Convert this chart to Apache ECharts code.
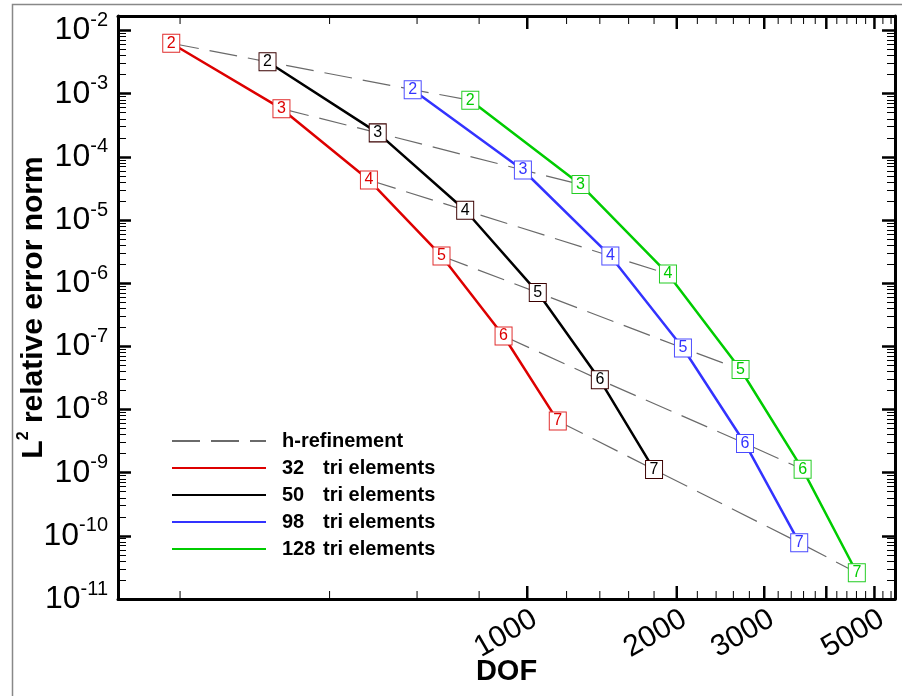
<!DOCTYPE html>
<html><head><meta charset="utf-8">
<script src="https://cdn.jsdelivr.net/npm/echarts@6/dist/echarts.min.js"></script>
<style>html,body{margin:0;padding:0;background:#fff}#c{width:902px;height:696px}</style>
</head><body><div id="c"></div>
<script>
const orders = [2, 3, 4, 5, 6, 7];
const dof32 = [192, 320, 480, 672, 896, 1152];
const err32 = [6.3e-3, 5.8e-4, 4.3e-5, 2.7e-6, 1.46e-7, 6.6e-9];
const dof50 = [300, 500, 750, 1050, 1400, 1800];
const err50 = [3.2e-3, 2.4e-4, 1.43e-5, 7.1e-7, 2.95e-8, 1.12e-9];
const dof98 = [588, 980, 1470, 2058, 2744, 3528];
const err98 = [1.16e-3, 6.2e-5, 2.7e-6, 9.4e-8, 2.9e-9, 7.8e-11];
const dof128 = [768, 1280, 1920, 2688, 3584, 4608];
const err128 = [7.9e-4, 3.65e-5, 1.4e-6, 4.3e-8, 1.13e-9, 2.6e-11];

const xMajorTicks = [1000, 2000, 3000, 4000, 5000];
const xMinorTicks = [200, 400, 600, 800, 1200, 1400, 1600, 1800, 2200, 2400, 2600, 2800,
  3200, 3400, 3600, 3800, 4200, 4400, 4600, 4800, 5200, 5400];
const yMajorTicks = [1e-2, 1e-3, 1e-4, 1e-5, 1e-6, 1e-7, 1e-8, 1e-9, 1e-10, 1e-11];
const yMinorMantissas = [2, 3, 4, 5, 6, 7, 8, 9];
const yMinorTicks = [];
yMajorTicks.slice(1).forEach(d => yMinorMantissas.forEach(m => yMinorTicks.push(parseFloat((m * d).toPrecision(3)))));

const FONT = 'Liberation Sans, Arial, Helvetica, sans-serif';
const RED = '#dd0000', BLACK = '#000000', BLUE = '#3333ff', GREEN = '#00cc00', DASH = '#6a6a6a';

const chart = echarts.init(document.getElementById('c'), null, {renderer: 'canvas'});

function axisBase(extra) {
  return Object.assign({
    gridIndex: 0,
    splitLine: {show: false},
    minorTick: {show: false},
    axisLine: {show: false, onZero: false},
    axisTick: {show: false},
    axisLabel: {show: false},
    nameMoveOverlap: false
  }, extra);
}
const xCommon = {type: 'log', logBase: 10, min: 150, max: 5500};
const yCommon = {type: 'log', logBase: 10, min: 1e-11, max: 0.017};

const majorTick = vals => ({show: true, inside: true, length: 13, lineStyle: {color: '#000', width: 2.5}, customValues: vals});
const minorTick = vals => ({show: true, inside: true, length: 8, lineStyle: {color: '#000', width: 1}, customValues: vals});
const thickLine = {show: true, onZero: false, lineStyle: {color: '#000', width: 3}};

const xAxes = [
  axisBase(Object.assign({}, xCommon, {
    position: 'bottom', axisLine: thickLine,
    axisLabel: {show: true, customValues: xMajorTicks, rotate: 30, align: 'right', verticalAlign: 'top',
      showMinLabel: true, showMaxLabel: true, hideOverlap: false,
      margin: 5, fontSize: 30, color: '#000', fontFamily: FONT, formatter: v => String(Math.round(v))},
    name: 'DOF', nameLocation: 'middle', nameGap: 58,
    nameTextStyle: {fontSize: 29, fontWeight: 'bold', color: '#000', fontFamily: FONT}
  })),
  axisBase(Object.assign({}, xCommon, {position: 'top', axisLine: thickLine}))
];
const yAxes = [
  axisBase(Object.assign({}, yCommon, {
    position: 'left', axisLine: thickLine, axisTick: majorTick(yMajorTicks),
    axisLabel: {show: true, customValues: yMajorTicks, margin: 10, color: '#000', fontFamily: FONT,
      showMinLabel: true, showMaxLabel: true,
      formatter: v => '{b|10}{s|' + Math.round(Math.log10(v)) + '}',
      rich: {
        b: {fontSize: 32, lineHeight: 40, color: '#000', fontFamily: FONT},
        s: {fontSize: 20, lineHeight: 20, verticalAlign: 'top', color: '#000', fontFamily: FONT}
      }},
    name: '{m|L}{s|2}{m| relative error norm}', nameLocation: 'middle', nameRotate: 90, nameGap: 66,
    nameTextStyle: {color: '#000', fontFamily: FONT,
      rich: {
        m: {fontSize: 30, fontWeight: 'bold', lineHeight: 36, color: '#000', fontFamily: FONT},
        s: {fontSize: 16, fontWeight: 'bold', lineHeight: 16, verticalAlign: 'top', color: '#000', fontFamily: FONT}
      }}
  })),
  axisBase(Object.assign({}, yCommon, {position: 'left', axisTick: minorTick(yMinorTicks)})),
  axisBase(Object.assign({}, yCommon, {position: 'right', axisLine: thickLine, axisTick: majorTick(yMajorTicks)})),
  axisBase(Object.assign({}, yCommon, {position: 'right', axisTick: minorTick(yMinorTicks)}))
];

const groups = [
  {dofs: dof32, errs: err32, color: RED, border: '#e02a2a'},
  {dofs: dof50, errs: err50, color: BLACK, border: '#3a0000'},
  {dofs: dof98, errs: err98, color: BLUE, border: '#4a4aff'},
  {dofs: dof128, errs: err128, color: GREEN, border: '#22cc22'}
];

const series = [];
// x-axis tick marks (bottom and mirrored top), placed through the x scale
function xTickSeries(vals, len, width) {
  return {
    type: 'custom', silent: true, z: 5, clip: false,
    data: vals.map(v => [v, 1e-5]),
    renderItem: (params, api) => {
      const x = api.coord([api.value(0), 1e-5])[0];
      const cs = params.coordSys;
      const yb = cs.y + cs.height, yt = cs.y;
      return {type: 'group', children: [
        {type: 'line', shape: {x1: x, y1: yb, x2: x, y2: yb - len}, style: {stroke: '#000', lineWidth: width}},
        {type: 'line', shape: {x1: x, y1: yt, x2: x, y2: yt + len}, style: {stroke: '#000', lineWidth: width}}
      ]};
    }
  };
}
series.push(xTickSeries(xMajorTicks, 13, 2.5));
series.push(xTickSeries(xMinorTicks, 8, 1));

// h-refinement dashed lines (same order p across meshes)
orders.forEach((p, i) => {
  series.push({
    type: 'line', name: 'href' + p, silent: true, symbol: 'none', z: 2,
    data: groups.map(g => [g.dofs[i], g.errs[i]]),
    lineStyle: {color: DASH, width: 1.2, type: [28, 11]}
  });
});
// p-refinement lines with numbered boxes
groups.forEach((g, gi) => {
  series.push({
    type: 'line', name: 'p' + gi, silent: true, z: 3,
    data: g.dofs.map((d, i) => [d, g.errs[i]]),
    symbol: 'rect', symbolSize: [17, 18], showAllSymbol: true,
    lineStyle: {color: g.color, width: 2.5},
    itemStyle: {color: '#ffffff', borderColor: g.border, borderWidth: 1},
    label: {show: true, position: 'inside', formatter: prm => String(orders[prm.dataIndex]),
      color: g.color, fontSize: 16, fontFamily: FONT}
  });
});
// legend-only series
const legendDefs = [
  {name: 'h', color: DASH, type: [28, 11], width: 1.2},
  {name: '32', color: RED, type: 'solid', width: 3},
  {name: '50', color: BLACK, type: 'solid', width: 3},
  {name: '98', color: BLUE, type: 'solid', width: 3},
  {name: '128', color: GREEN, type: 'solid', width: 3}
];
legendDefs.forEach(l => series.push({
  type: 'line', name: l.name, data: [], symbol: 'none', itemStyle: {color: l.color},
  lineStyle: {color: l.color, type: l.type, width: l.width}
}));

chart.setOption({
  animation: false,
  backgroundColor: '#fff',
  grid: {left: 118, right: 7, top: 16, bottom: 97, outerBoundsMode: 'none', show: false},
  graphic: [{type: 'rect', left: 10, top: 2, shape: {width: 960, height: 760},
    style: {fill: 'none', stroke: '#888', lineWidth: 1.5}, silent: true, z: -10}],
  legend: {
    show: true, orient: 'vertical', left: 171, top: 431, itemWidth: 94, itemHeight: 14, itemGap: 7,
    selectedMode: false, padding: 0,
    data: legendDefs.map(l => l.name),
    itemStyle: {opacity: 0},
    formatter: n => n === 'h' ? '{h|h-refinement}' : '{n|' + n + '}{a|tri elements}',
    textStyle: {color: '#000', fontFamily: FONT, fontSize: 20, fontWeight: 'bold',
      rich: {
        h: {fontSize: 20, fontWeight: 'bold', lineHeight: 20, padding: [0, 0, 0, 11], color: '#000', fontFamily: FONT},
        n: {fontSize: 20, fontWeight: 'bold', lineHeight: 20, width: 41, padding: [0, 0, 0, 11], color: '#000', fontFamily: FONT},
        a: {fontSize: 20, fontWeight: 'bold', lineHeight: 20, color: '#000', fontFamily: FONT}
      }}
  },
  xAxis: xAxes,
  yAxis: yAxes,
  series: series
});
</script></body></html>
